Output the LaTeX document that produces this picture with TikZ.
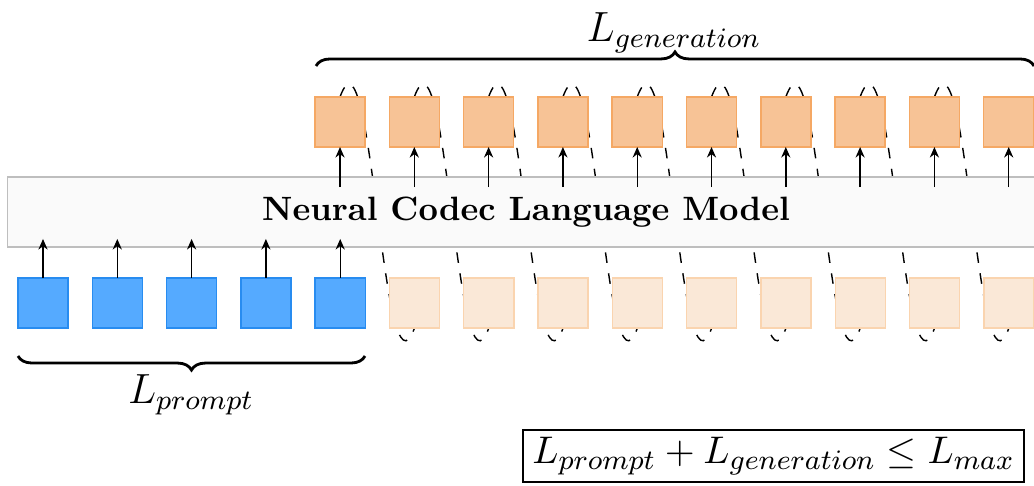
\documentclass[tikz,border=0pt]{standalone}
\usetikzlibrary{decorations.pathreplacing,backgrounds,calc,arrows.meta}
\definecolor{ofill}{RGB}{247,195,150}
\definecolor{odraw}{RGB}{245,168,100}
\definecolor{lfill}{RGB}{250,232,215}
\definecolor{ldraw}{RGB}{250,212,175}
\definecolor{bfill}{RGB}{85,170,255}
\definecolor{bdraw}{RGB}{40,140,240}
\definecolor{lmfill}{RGB}{250,250,250}
\definecolor{lmdraw}{RGB}{190,190,190}
\begin{document}
\begin{tikzpicture}[x=0.01cm,y=0.01cm,
  tok/.style={minimum size=0.5cm,inner sep=0pt,outer sep=0pt},
  gen/.style={tok,fill=ofill,draw=odraw},
  prompt/.style={tok,fill=bfill,draw=bdraw},
  future/.style={tok,fill=lfill,draw=ldraw},
  lm/.style={fill=lmfill,draw=lmdraw,minimum width=10.36cm,minimum height=0.7cm,inner sep=0pt,outer sep=0pt,font=\fontsize{9.6}{11}\selectfont\bfseries},
  arr/.style={-{Stealth[length=3pt,width=2.6pt]}},
  brc/.style={decorate,decoration={brace,amplitude=4pt},thick},
  lbl/.style={inner sep=0pt,font=\fontsize{11.7}{14}\selectfont},
  ]
\useasboundingbox (0,0) rectangle (1034,485);
\node[lm] (lm) at (526,273) {Neural Codec Language Model};
\foreach \i in {0,...,9} \node[gen] (t\i) at ({340+74.3*\i},363) {};
\foreach \k in {0,...,4} \node[prompt] (b\k) at ({43+74.3*\k},182) {};
\foreach \k in {5,...,13} \node[future] (b\k) at ({43+74.3*\k},182) {};
\begin{scope}[on background layer]
\foreach \i [evaluate=\i as \k using int(\i+5)] in {0,...,8}
  \draw[dashed] (t\i.north) to[out=70,in=-110] (b\k.south);
\end{scope}
\foreach \k in {0,...,4} \draw[arr] (b\k.north) -- ($(b\k.north)+(0,39)$);
\foreach \i in {0,...,9} \draw[arr] ($(t\i.south)+(0,-40)$) -- (t\i.south);
\coordinate (g1) at (316,419);
\coordinate (g2) at (1034,419);
\draw[brc] (g1) -- (g2);
\node[lbl] (lgen) at (674,452) {$L_{generation}$};
\coordinate (p1) at (365,129);
\coordinate (p2) at (18,129);
\draw[brc] (p1) -- (p2);
\node[lbl] (lprompt) at (191,90) {$L_{prompt}$};
\node[draw,lbl,font=\fontsize{11.4}{14}\selectfont,inner xsep=2.6pt,inner ysep=2pt,minimum height=0.52cm] (form) at (773.5,29) {$L_{prompt}+L_{generation}\leq L_{max}$};
\end{tikzpicture}
\end{document}
